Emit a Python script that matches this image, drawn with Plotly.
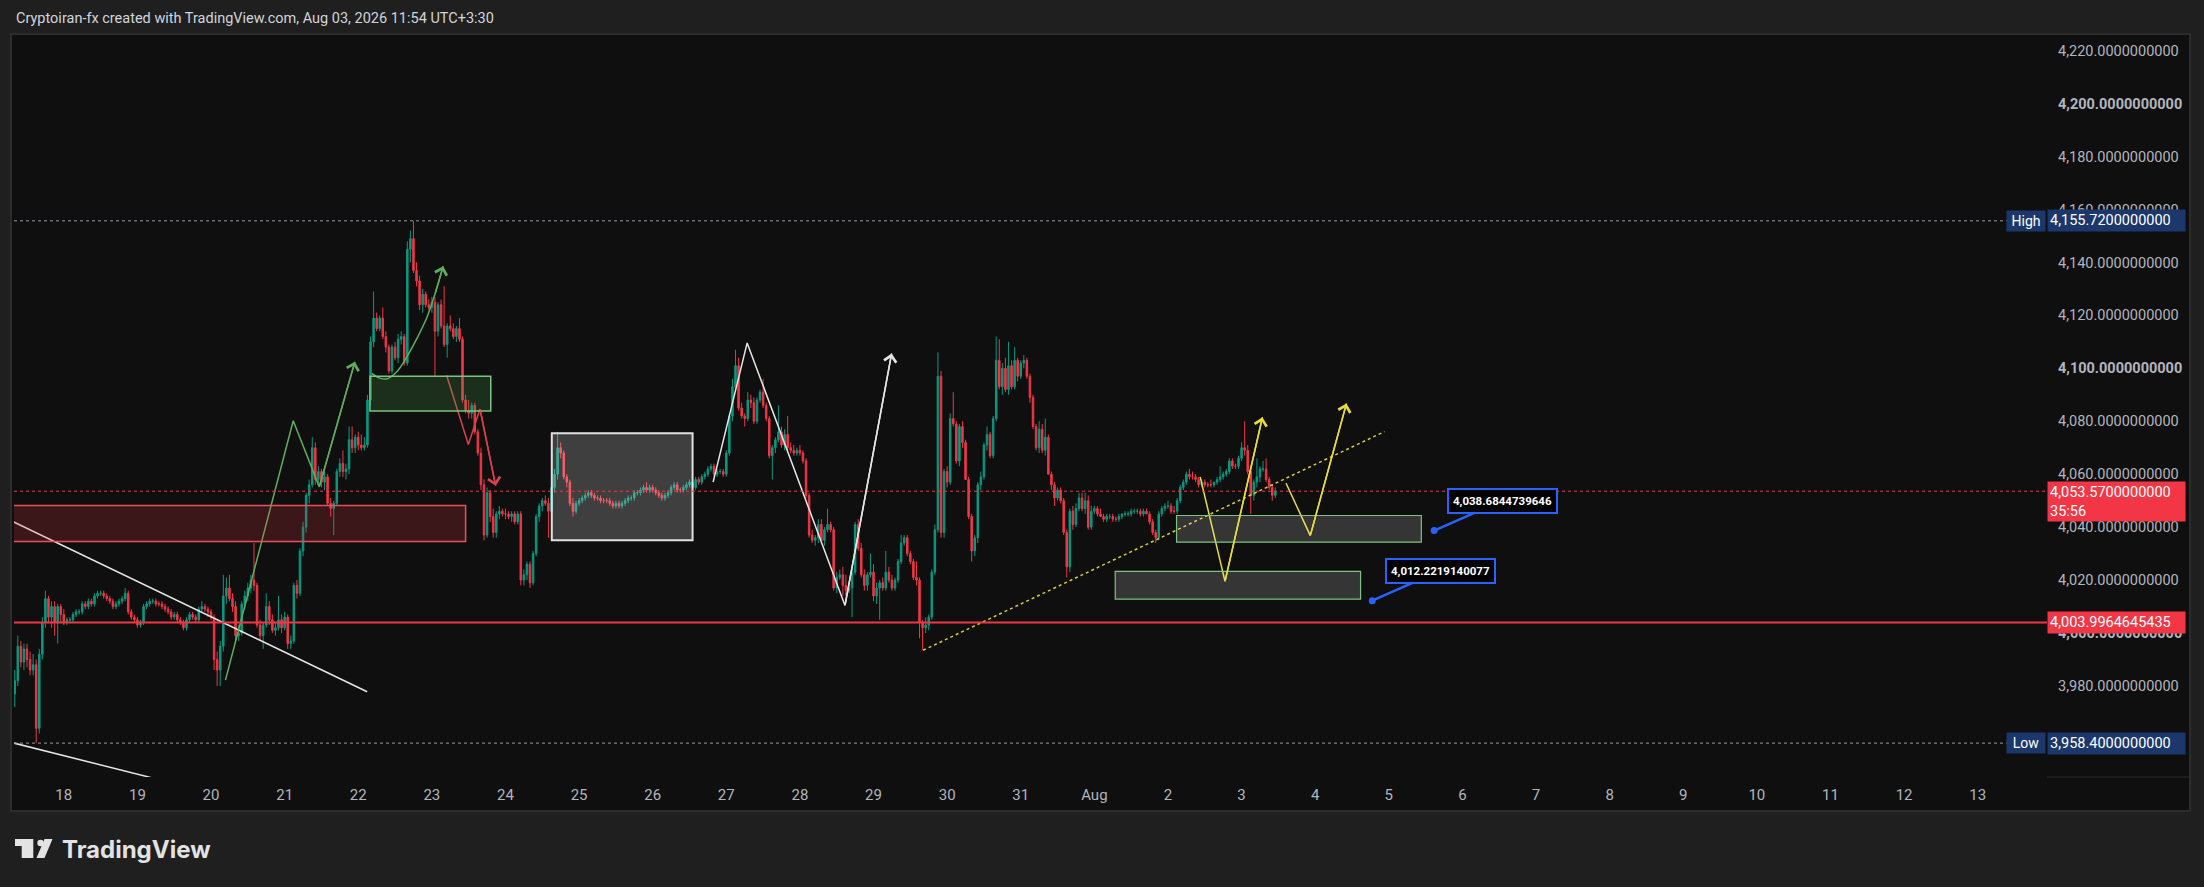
import pandas as pd
import plotly.graph_objects as go

# 1h candles, first bar Jul 17 08:00 (chart time UTC+3:30), last one is the live bar on Aug 3
start_time = "2026-07-17 08:00"

opens = [
    # Jul 17
    3977, 3982, 3995, 3989, 3994, 3990, 3986, 3988, 3964, 3992, 4004, 4013, 4006, 4010, 4004, 4010,
    # Jul 18
    4007, 4004, 4005, 4005, 4007, 4008, 4008, 4011, 4010, 4012, 4011, 4014, 4015, 4015, 4014, 4013, 4012, 4010, 4011, 4012, 4013, 4015, 4008, 4006,
    # Jul 19
    4005, 4003, 4004, 4010, 4011, 4012, 4012, 4011, 4011, 4010, 4009, 4008, 4006, 4007, 4005, 4004, 4002, 4005, 4007, 4006, 4005, 4009, 4010, 4009,
    # Jul 20
    4008, 4006, 3990, 3986, 3995, 4014, 4017, 4013, 4010, 3999, 4000, 4011, 4014, 4017, 4020, 4018, 4003, 3999, 4003, 4010, 4005, 4001, 4002, 4005,
    # Jul 21
    4002, 4006, 3996, 3997, 4018, 4015, 4031, 4040, 4052, 4056, 4070, 4058, 4061, 4057, 4059, 4049, 4047, 4049, 4061, 4064, 4061, 4062, 4073, 4070,
    # Jul 22
    4074, 4071, 4070, 4071, 4088, 4110, 4119, 4115, 4119, 4112, 4108, 4099, 4108, 4104, 4111, 4112, 4102, 4145, 4149, 4137, 4133, 4124, 4128, 4124,
    # Jul 23
    4123, 4125, 4114, 4124, 4116, 4109, 4116, 4115, 4112, 4115, 4111, 4088, 4084, 4083, 4086, 4076, 4068, 4056, 4037, 4053, 4044, 4038, 4045, 4046,
    # Jul 24
    4045, 4045, 4044, 4045, 4042, 4045, 4020, 4022, 4026, 4019, 4030, 4044, 4048, 4050, 4049, 4046, 4055, 4060, 4070, 4068, 4059, 4057, 4049, 4046,
    # Jul 25
    4049, 4050, 4051, 4052, 4053, 4052, 4051, 4051, 4050, 4050, 4050, 4049, 4048, 4049, 4048, 4049, 4050, 4051, 4051, 4053, 4053, 4054, 4055, 4054,
    # Jul 26
    4055, 4054, 4053, 4052, 4051, 4052, 4053, 4055, 4056, 4054, 4054, 4055, 4056, 4057, 4055, 4058, 4057, 4059, 4060, 4062, 4063, 4060, 4061, 4061,
    # Jul 27
    4060, 4068, 4082, 4093, 4101, 4085, 4082, 4081, 4088, 4087, 4080, 4088, 4091, 4086, 4081, 4067, 4070, 4073, 4076, 4071, 4075, 4070, 4069, 4068,
    # Jul 28
    4069, 4068, 4065, 4052, 4037, 4035, 4036, 4041, 4035, 4039, 4041, 4039, 4017, 4021, 4022, 4018, 4016, 4017, 4023, 4041, 4032, 4022, 4018, 4022,
    # Jul 29
    4023, 4014, 4017, 4019, 4017, 4023, 4020, 4017, 4020, 4027, 4034, 4036, 4030, 4027, 4021, 4020, 4004, 4002, 4003, 4006, 4023, 4039, 4097, 4038,
    # Jul 30
    4061, 4057, 4081, 4079, 4065, 4078, 4072, 4058, 4044, 4031, 4036, 4056, 4059, 4071, 4075, 4067, 4081, 4103, 4093, 4100, 4092, 4101, 4093, 4103,
    # Jul 31
    4097, 4102, 4103, 4097, 4089, 4078, 4070, 4077, 4069, 4074, 4060, 4056, 4051, 4054, 4050, 4038, 4025, 4046, 4041, 4047, 4051, 4047, 4050, 4040,
    # Aug 1
    4046, 4047, 4045, 4044, 4043, 4044, 4044, 4043, 4043, 4044, 4045, 4045, 4045, 4046, 4046, 4046, 4045, 4046, 4045, 4042, 4038, 4036, 4045, 4047,
    # Aug 2
    4048, 4048, 4046, 4046, 4050, 4055, 4057, 4060, 4059, 4059, 4058, 4056, 4057, 4056, 4056, 4056, 4057, 4058, 4059, 4060, 4061, 4065, 4063, 4063,
    # Aug 3
    4066, 4070, 4069, 4061, 4052, 4057, 4059, 4062, 4062, 4058, 4055, 4052,
]

highs = [
    3986, 3999, 3997, 3996, 3996, 3993, 3992, 3990, 3994, 4006, 4016, 4014, 4012, 4012, 4011, 4011,
    4009, 4006, 4006, 4008, 4009, 4009, 4012, 4012, 4013, 4013, 4015, 4016, 4016, 4016, 4015, 4014, 4013, 4012, 4013, 4014, 4017, 4016, 4009, 4007,
    4006, 4005, 4011, 4012, 4013, 4013, 4013, 4012, 4012, 4011, 4010, 4009, 4008, 4008, 4006, 4005, 4006, 4008, 4008, 4007, 4010, 4012, 4011, 4010,
    4009, 4007, 3993, 3997, 4022, 4021, 4022, 4015, 4012, 4003, 4012, 4016, 4019, 4022, 4034, 4019, 4005, 4004, 4015, 4012, 4007, 4004, 4014, 4007,
    4008, 4007, 3999, 4019, 4020, 4032, 4042, 4053, 4058, 4074, 4072, 4063, 4062, 4061, 4060, 4051, 4050, 4062, 4066, 4069, 4064, 4078, 4078, 4075,
    4076, 4075, 4074, 4090, 4112, 4129, 4121, 4120, 4123, 4114, 4109, 4109, 4110, 4113, 4114, 4113, 4148, 4152, 4155.72, 4140, 4135, 4130, 4129, 4126,
    4127, 4127, 4125, 4126, 4131, 4117, 4120, 4117, 4116, 4119, 4112, 4090, 4088, 4087, 4087, 4077, 4070, 4058, 4055, 4054, 4047, 4046, 4048, 4047,
    4047, 4046, 4046, 4046, 4046, 4046, 4024, 4027, 4027, 4031, 4045, 4049, 4051, 4052, 4051, 4056, 4062, 4076, 4072, 4069, 4060, 4058, 4051, 4050,
    4051, 4052, 4053, 4054, 4054, 4053, 4052, 4052, 4051, 4051, 4051, 4050, 4050, 4050, 4050, 4051, 4052, 4052, 4054, 4054, 4055, 4056, 4057, 4056,
    4056, 4055, 4054, 4053, 4053, 4054, 4056, 4057, 4057, 4055, 4056, 4057, 4058, 4058, 4059, 4059, 4060, 4061, 4063, 4064, 4064, 4062, 4062, 4062,
    4069, 4083, 4096, 4107, 4104, 4087, 4083, 4091, 4090, 4089, 4089, 4092, 4096, 4087, 4082, 4071, 4074, 4086, 4078, 4077, 4082, 4072, 4071, 4070,
    4071, 4069, 4066, 4053, 4039, 4037, 4043, 4043, 4040, 4047, 4042, 4040, 4023, 4024, 4025, 4022, 4019, 4024, 4042, 4043, 4034, 4024, 4023, 4030,
    4026, 4019, 4020, 4021, 4031, 4025, 4022, 4021, 4028, 4037, 4037, 4037, 4031, 4028, 4027, 4021, 4005, 4006, 4007, 4024, 4041, 4106, 4099, 4062,
    4063, 4083, 4091, 4080, 4079, 4080, 4073, 4059, 4045, 4037, 4057, 4061, 4072, 4078, 4076, 4082, 4112, 4111, 4102, 4104, 4110, 4103, 4108, 4104,
    4103, 4105, 4104, 4098, 4090, 4079, 4080, 4079, 4081, 4075, 4061, 4057, 4055, 4055, 4051, 4039, 4047, 4048, 4049, 4053, 4053, 4053, 4052, 4048,
    4048, 4048, 4047, 4045, 4045, 4045, 4045, 4044, 4045, 4045, 4046, 4046, 4047, 4047, 4047, 4047, 4047, 4047, 4046, 4043, 4039, 4046, 4048, 4049,
    4050, 4049, 4048, 4051, 4056, 4058, 4061, 4062, 4061, 4060, 4059, 4058, 4058, 4057, 4058, 4057, 4059, 4063, 4061, 4062, 4066, 4066, 4064, 4067,
    4072, 4080, 4071, 4062, 4058, 4066, 4063, 4065, 4066, 4059, 4056, 4055,
]

lows = [
    3972, 3980, 3987, 3986, 3987, 3984, 3984, 3958.4, 3962, 3990, 4002, 4004, 4002, 3999, 3996, 4004,
    4003, 4003, 4004, 4004, 4006, 4007, 4007, 4009, 4009, 4010, 4010, 4013, 4014, 4013, 4012, 4011, 4009, 4009, 4010, 4011, 4012, 4007, 4005, 4004,
    4002, 4002, 4003, 4009, 4010, 4011, 4010, 4010, 4009, 4008, 4007, 4005, 4005, 4004, 4003, 4001, 4001, 4004, 4005, 4004, 4004, 4008, 4008, 4006,
    4005, 3986, 3980, 3980, 3993, 4011, 4012, 4008, 3996, 3997, 3999, 4009, 4012, 4015, 4016, 4002, 3997, 3994, 4002, 4003, 4000, 3999, 4001, 4000,
    4001, 3994, 3994, 3996, 4013, 4014, 4029, 4038, 4049, 4055, 4056, 4056, 4055, 4054, 4048, 4044, 4037, 4048, 4059, 4059, 4058, 4060, 4068, 4068,
    4069, 4069, 4069, 4070, 4086, 4108, 4114, 4114, 4111, 4106, 4098, 4098, 4103, 4102, 4109, 4101, 4101, 4140, 4136, 4131, 4122, 4121, 4123, 4122,
    4121, 4097, 4112, 4115, 4108, 4104, 4114, 4111, 4110, 4110, 4087, 4083, 4081, 4081, 4075, 4067, 4054, 4035, 4036, 4042, 4036, 4036, 4043, 4044,
    4043, 4043, 4042, 4041, 4041, 4018, 4018, 4020, 4017, 4018, 4029, 4042, 4046, 4048, 4036, 4045, 4053, 4058, 4066, 4058, 4055, 4048, 4044, 4045,
    4048, 4049, 4050, 4051, 4051, 4050, 4050, 4049, 4049, 4049, 4048, 4047, 4047, 4047, 4047, 4048, 4049, 4050, 4050, 4052, 4052, 4053, 4053, 4053,
    4053, 4052, 4051, 4050, 4050, 4051, 4052, 4054, 4053, 4053, 4053, 4054, 4055, 4053, 4054, 4056, 4056, 4058, 4059, 4061, 4059, 4059, 4060, 4059,
    4059, 4067, 4080, 4091, 4084, 4081, 4078, 4080, 4085, 4079, 4079, 4087, 4085, 4080, 4066, 4058, 4068, 4072, 4070, 4069, 4069, 4068, 4067, 4067,
    4067, 4064, 4051, 4036, 4034, 4033, 4034, 4034, 4033, 4038, 4038, 4016, 4015, 4020, 4014, 4014, 4015, 4006, 4022, 4031, 4021, 4016, 4016, 4021,
    4012, 4011, 4005, 4016, 4016, 4019, 4016, 4016, 4019, 4026, 4033, 4029, 4026, 4020, 4018, 3998, 3993.5, 4000, 4001, 4005, 4022, 4038, 4036, 4036,
    4055, 4056, 4078, 4064, 4063, 4070, 4058, 4043, 4027, 4029, 4034, 4054, 4058, 4069, 4066, 4066, 4080, 4092, 4090, 4091, 4090, 4092, 4092, 4095,
    4096, 4100, 4096, 4087, 4077, 4069, 4068, 4068, 4067, 4060, 4054, 4048, 4050, 4049, 4037, 4021, 4023, 4039, 4040, 4046, 4046, 4045, 4039, 4039,
    4045, 4044, 4044, 4042, 4042, 4043, 4042, 4042, 4042, 4043, 4044, 4044, 4044, 4045, 4045, 4044, 4044, 4045, 4041, 4037, 4034, 4035, 4044, 4046,
    4047, 4045, 4045, 4045, 4049, 4054, 4056, 4058, 4058, 4057, 4055, 4055, 4055, 4055, 4055, 4055, 4056, 4057, 4058, 4059, 4060, 4062, 4062, 4062,
    4065, 4067, 4060, 4045, 4050, 4055, 4057, 4061, 4057, 4054, 4050, 4051,
]

closes = [
    3982, 3995, 3989, 3994, 3990, 3986, 3988, 3964, 3992, 4004, 4013, 4006, 4010, 4004, 4010, 4007,
    4004, 4005, 4005, 4007, 4008, 4008, 4011, 4010, 4012, 4011, 4014, 4015, 4015, 4014, 4013, 4012, 4010, 4011, 4012, 4013, 4015, 4008, 4006, 4005,
    4003, 4004, 4010, 4011, 4012, 4012, 4011, 4011, 4010, 4009, 4008, 4006, 4007, 4005, 4004, 4002, 4005, 4007, 4006, 4005, 4009, 4010, 4009, 4008,
    4006, 3990, 3986, 3995, 4014, 4017, 4013, 4010, 3999, 4000, 4011, 4014, 4017, 4020, 4018, 4003, 3999, 4003, 4010, 4005, 4001, 4002, 4005, 4002,
    4006, 3996, 3997, 4018, 4015, 4031, 4040, 4052, 4056, 4070, 4058, 4061, 4057, 4059, 4049, 4047, 4049, 4061, 4064, 4061, 4062, 4073, 4070, 4074,
    4071, 4070, 4071, 4088, 4110, 4119, 4115, 4119, 4112, 4108, 4099, 4108, 4104, 4111, 4112, 4102, 4145, 4149, 4137, 4133, 4124, 4128, 4124, 4123,
    4125, 4114, 4124, 4116, 4109, 4116, 4115, 4112, 4115, 4111, 4088, 4084, 4083, 4086, 4076, 4068, 4056, 4037, 4053, 4044, 4038, 4045, 4046, 4045,
    4045, 4044, 4045, 4042, 4045, 4020, 4022, 4026, 4019, 4030, 4044, 4048, 4050, 4049, 4046, 4055, 4060, 4070, 4068, 4059, 4057, 4049, 4046, 4049,
    4050, 4051, 4052, 4053, 4052, 4051, 4051, 4050, 4050, 4050, 4049, 4048, 4049, 4048, 4049, 4050, 4051, 4051, 4053, 4053, 4054, 4055, 4054, 4055,
    4054, 4053, 4052, 4051, 4052, 4053, 4055, 4056, 4054, 4054, 4055, 4056, 4057, 4055, 4058, 4057, 4059, 4060, 4062, 4063, 4060, 4061, 4061, 4060,
    4068, 4082, 4093, 4101, 4085, 4082, 4081, 4088, 4087, 4080, 4088, 4091, 4086, 4081, 4067, 4070, 4073, 4076, 4071, 4075, 4070, 4069, 4068, 4069,
    4068, 4065, 4052, 4037, 4035, 4036, 4041, 4035, 4039, 4041, 4039, 4017, 4021, 4022, 4018, 4016, 4017, 4023, 4041, 4032, 4022, 4018, 4022, 4023,
    4014, 4017, 4019, 4017, 4023, 4020, 4017, 4020, 4027, 4034, 4036, 4030, 4027, 4021, 4020, 4004, 4002, 4003, 4006, 4023, 4039, 4097, 4038, 4061,
    4057, 4081, 4079, 4065, 4078, 4072, 4058, 4044, 4031, 4036, 4056, 4059, 4071, 4075, 4067, 4081, 4103, 4093, 4100, 4092, 4101, 4093, 4103, 4097,
    4102, 4103, 4097, 4089, 4078, 4070, 4077, 4069, 4074, 4060, 4056, 4051, 4054, 4050, 4038, 4025, 4046, 4041, 4047, 4051, 4047, 4050, 4040, 4046,
    4047, 4045, 4044, 4043, 4044, 4044, 4043, 4043, 4044, 4045, 4045, 4045, 4046, 4046, 4046, 4045, 4046, 4045, 4042, 4038, 4036, 4045, 4047, 4048,
    4048, 4046, 4046, 4050, 4055, 4057, 4060, 4059, 4059, 4058, 4056, 4057, 4056, 4056, 4056, 4057, 4058, 4059, 4060, 4061, 4065, 4063, 4063, 4066,
    4070, 4069, 4061, 4052, 4057, 4059, 4062, 4062, 4058, 4055, 4052, 4053.57,
]

last_price = 4053.57
countdown = "35:56"
support_level = 4003.9964645435
high_price = 4155.72
low_price = 3958.4

price_ticks = [3980, 4000, 4020, 4040, 4060, 4080, 4100, 4120, 4140, 4160, 4180, 4200, 4220]
day_labels = ["18", "19", "20", "21", "22", "23", "24", "25", "26", "27", "28", "29", "30", "31",
              "Aug", "2", "3", "4", "5", "6", "7", "8", "9", "10", "11", "12", "13"]

# drawings, as (hours after Jul 18 00:00, price)
white_line_1 = [(-20, 4044.0), (98.9, 3977.8)]
white_line_2 = [(-20, 3959.5), (40, 3942.0)]
green_path = [(52.7, 3982.2), (74.8, 4080.2), (83.3, 4055.2), (94.9, 4102.5)]
green_curve = [(100.4, 4098.1), (102.8, 4096.4), (105.3, 4096.0), (108.5, 4098.6), (111.8, 4104.2),
               (115.0, 4111.0), (118.3, 4119.0), (121.0, 4128.0), (123.7, 4138.6)]
red_path = [(124.8, 4097.4), (131.9, 4071.2), (135.7, 4084.6), (140.8, 4055.6)]
white_path = [(211.7, 4057.0), (222.8, 4109.6), (254.7, 4010.4), (269.9, 4105.6)]
yellow_trend = [(280.2, 3993.5), (430.6, 4076.1)]
yellow_path_1 = [(370.5, 4059.0), (378.6, 4019.5), (390.8, 4081.5)]
yellow_path_2 = [(398.5, 4056.6), (406.4, 4036.8), (418.2, 4086.7)]

# boxes: (from hour, to hour, low price, high price)
red_zone = (-40, 131.0, 4034.6, 4048.2)
green_zone = (99.8, 139.2, 4083.9, 4097.0)
range_box = (159.1, 205.0, 4035.0, 4075.5)
target_box_1 = (362.8, 442.6, 4034.3, 4044.4)
target_box_2 = (342.8, 422.8, 4012.8, 4023.3)

callout_points = [(446.8, 4038.6844739646), (426.6, 4012.2219140077)]

# ---------------------------------------------------------------
W, H = 2204, 887
L, R, T, B = 14, 157, 34, 110
PW, PH = W - L - R, H - T - B

BG_OUT = "#1f1f1f"
BG_IN = "#0f0f0f"
UP = "#089981"
DOWN = "#f23645"
TXT = "#b2b5be"
NAVY = "#1b376b"
FONT = "Roboto"

base = pd.Timestamp("2026-07-18 00:00")


def t(h):
    return base + pd.Timedelta(hours=h)


def px_x(px):
    return (px - L) / PW


def px_y(py):
    return (H - B - py) / PH


times = pd.date_range(start_time, periods=len(closes), freq="h")

fig = go.Figure()
shapes = []
annotations = []

fig.add_trace(go.Candlestick(
    x=times, open=opens, high=highs, low=lows, close=closes,
    increasing=dict(line=dict(color=UP, width=1), fillcolor=UP),
    decreasing=dict(line=dict(color=DOWN, width=1), fillcolor=DOWN),
    whiskerwidth=0, hoverinfo="skip", showlegend=False,
))


def add_path(pts, color, width=1.5, dash="solid", spline=False):
    fig.add_trace(go.Scatter(
        x=[t(h) for h, _ in pts], y=[p for _, p in pts], mode="lines",
        line=dict(color=color, width=width, dash=dash, shape="spline" if spline else "linear"),
        hoverinfo="skip", showlegend=False,
    ))


def add_arrow(pts, color, width=1.5):
    (h0, p0), (h1, p1) = pts[-2], pts[-1]
    annotations.append(dict(
        x=t(h1), y=p1, ax=t(h0), ay=p0, xref="x", yref="y", axref="x", ayref="y",
        text="", showarrow=True, arrowhead=4, arrowsize=1.6, arrowwidth=width,
        arrowcolor=color, standoff=0,
    ))


add_path(white_line_1, "#e6e6e6", 1.5)
add_path(white_line_2, "#e6e6e6", 1.5)
add_path(green_path, "#5fae5f", 1.5)
add_arrow(green_path, "#5fae5f")
add_path(green_curve, "#5fae5f", 1.5, spline=True)
add_arrow(green_curve, "#5fae5f")
add_path(red_path, "#d9414c", 1.5)
add_arrow(red_path, "#d9414c")
add_path(white_path, "#e6e6e6", 1.5)
add_arrow(white_path, "#e6e6e6")
add_path(yellow_trend, "#d8cc3c", 1.5, dash="dot")
add_path(yellow_path_1, "#e8dc3a", 1.5)
add_arrow(yellow_path_1, "#e8dc3a")
add_path(yellow_path_2, "#e8dc3a", 1.5)
add_arrow(yellow_path_2, "#e8dc3a")


def add_box(box, fill, border, width=1.5):
    h0, h1, p0, p1 = box
    shapes.append(dict(type="rect", xref="x", yref="y", x0=t(h0), x1=t(h1), y0=p0, y1=p1,
                       fillcolor=fill, line=dict(color=border, width=width), layer="above"))


# panel frame (chart + scales)
shapes.append(dict(type="rect", xref="paper", yref="paper", x0=px_x(11), x1=px_x(2190),
                   y0=px_y(811), y1=px_y(34), fillcolor=BG_IN,
                   line=dict(color="#2c2c2c", width=2), layer="below"))
shapes.append(dict(type="line", xref="paper", yref="paper", x0=1, x1=px_x(2190),
                   y0=0, y1=0, line=dict(color="#2a2a2a", width=1)))

add_box(red_zone, "rgba(242,54,69,0.2)", "#e8505b")
add_box(green_zone, "rgba(76,175,80,0.2)", "#7cc47f")
add_box(range_box, "rgba(255,255,255,0.2)", "#e0e0e0", 2)
add_box(target_box_1, "rgba(255,255,255,0.16)", "#7cc47f", 1.2)
add_box(target_box_2, "rgba(255,255,255,0.16)", "#7cc47f", 1.2)

# horizontal levels
shapes.append(dict(type="line", xref="paper", yref="y", x0=0, x1=1, y0=support_level, y1=support_level,
                   line=dict(color=DOWN, width=2), layer="above"))
shapes.append(dict(type="line", xref="paper", yref="y", x0=0, x1=1, y0=last_price, y1=last_price,
                   line=dict(color=DOWN, width=1, dash="dot"), layer="above"))
for lvl in (high_price, low_price):
    shapes.append(dict(type="line", xref="paper", yref="y", x0=0, x1=1, y0=lvl, y1=lvl,
                       line=dict(color="#9598a1", width=1, dash="dot"), layer="above"))

# TradingView logo mark
lx = [15, 33.3, 33.3, 21.7, 21.7, 15]
ly = [839, 839, 858, 858, 846, 846]
shapes.append(dict(type="path", xref="paper", yref="paper",
                   path="M" + " L".join(f"{px_x(a)},{px_y(b)}" for a, b in zip(lx, ly)) + " Z",
                   fillcolor="#e3e3e3", line=dict(width=0)))
shapes.append(dict(type="circle", xref="paper", yref="paper", x0=px_x(37.3), x1=px_x(43.7),
                   y0=px_y(846.2), y1=px_y(839.8), fillcolor="#e3e3e3", line=dict(width=0)))
sx = [44.5, 52.5, 44.5, 36.5]
sy = [839, 839, 858, 858]
shapes.append(dict(type="path", xref="paper", yref="paper",
                   path="M" + " L".join(f"{px_x(a)},{px_y(b)}" for a, b in zip(sx, sy)) + " Z",
                   fillcolor="#e3e3e3", line=dict(width=0)))

# callout dots + labels
fig.add_trace(go.Scatter(
    x=[t(h) for h, _ in callout_points], y=[p for _, p in callout_points], mode="markers",
    marker=dict(color="#2962ff", size=7), hoverinfo="skip", showlegend=False,
))
for h, p in callout_points:
    annotations.append(dict(
        x=t(h), y=p, xref="x", yref="y", ax=68, ay=-30, axref="pixel", ayref="pixel",
        text=f"<b>{p:,.10f}</b>",
        showarrow=True, arrowhead=0, arrowwidth=2.5, arrowcolor="#2962ff", standoff=0,
        font=dict(family=FONT, size=11.5, color="#ffffff"), bgcolor="#000000",
        bordercolor="#2962ff", borderwidth=2, borderpad=4,
    ))


def badge(y, text, bg, height=None, yshift=0, yanchor="middle"):
    d = dict(x=1, y=y, xref="paper", yref="y", xanchor="left", yanchor=yanchor, yshift=yshift,
             text=text, showarrow=False, align="left", valign="top", width=133,
             font=dict(family=FONT, size=14.5, color="#ffffff"), bgcolor=bg, borderpad=2)
    if height:
        d["height"] = height
    annotations.append(d)


badge(high_price, f"{high_price:,.10f}", NAVY)
badge(low_price, f"{low_price:,.10f}", NAVY)
badge(support_level, f"{support_level:,.10f}", DOWN)
badge(last_price, f"{last_price:,.10f}<br>{countdown}", DOWN, height=35, yshift=10, yanchor="top")
for lvl, name in ((high_price, "High"), (low_price, "Low")):
    annotations.append(dict(x=1, y=lvl, xref="paper", yref="y", xanchor="right", xshift=-1,
                            text=name, showarrow=False, bgcolor=NAVY, borderpad=2, width=34,
                            font=dict(family=FONT, size=14, color="#ffffff")))

annotations.append(dict(
    x=0, y=px_y(18), xref="paper", yref="paper", xanchor="left", yanchor="middle", showarrow=False,
    text="Cryptoiran-fx created with TradingView.com, Aug 03, 2026 11:54 UTC+3:30",
    font=dict(family=FONT, size=14.5, color="#d1d4dc"),
))
annotations.append(dict(
    x=px_x(60), y=px_y(849), xref="paper", yref="paper", xanchor="left", yanchor="middle",
    showarrow=False, text="<b>TradingView</b>", font=dict(family="Inter", size=24, color="#e3e3e3"),
))

tick_text = [f"<b>{v:,.10f}</b>" if v % 100 == 0 else f"{v:,.10f}" for v in price_ticks]
day_ticks = pd.date_range("2026-07-18", periods=len(day_labels), freq="D")

fig.update_layout(
    width=W, height=H, margin=dict(l=L, r=R, t=T, b=B),
    paper_bgcolor=BG_OUT, plot_bgcolor=BG_IN,
    shapes=shapes, annotations=annotations, showlegend=False,
    xaxis=dict(
        type="date", range=[t(-16.24), t(646.6)], rangeslider=dict(visible=False),
        showgrid=False, zeroline=False, showline=False, ticks="",
        tickvals=day_ticks, ticktext=day_labels, ticklabelstandoff=7,
        tickfont=dict(family=FONT, size=15, color=TXT),
    ),
    yaxis=dict(
        side="right", range=[3945.6, 4226.3], showgrid=False, zeroline=False, showline=False,
        ticks="", tickvals=price_ticks, ticktext=tick_text, ticklabelstandoff=10,
        tickfont=dict(family=FONT, size=14.5, color=TXT),
    ),
)

fig.write_html(
    "out.html",
    config=dict(displayModeBar=False),
    post_script="document.body.style.margin='0';document.body.style.overflow='hidden';",
)
